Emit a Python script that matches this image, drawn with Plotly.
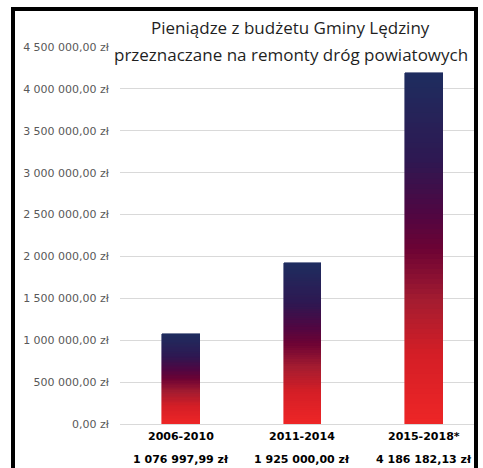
import plotly.graph_objects as go

categories = ["2006-2010", "2011-2014", "2015-2018*"]
values = [1076997.99, 1925000.00, 4186182.13]
y_ticks = [0, 500000, 1000000, 1500000, 2000000, 2500000, 3000000, 3500000, 4000000, 4500000]
title_lines = ["Pieniądze z budżetu Gminy Lędziny", "przeznaczane na remonty dróg powiatowych"]

# gradient stops: (fraction from bottom of bar, rgb)
stops = [
    (0.0, (238, 38, 38)),
    (0.2, (212, 30, 38)),
    (0.35, (165, 28, 48)),
    (0.5, (108, 3, 52)),
    (0.6, (80, 6, 66)),
    (0.75, (46, 24, 82)),
    (1.0, (30, 45, 95)),
]


def color_at(f):
    for (f0, c0), (f1, c1) in zip(stops[:-1], stops[1:]):
        if f0 <= f <= f1:
            t = (f - f0) / (f1 - f0)
            return "rgb(%d,%d,%d)" % tuple(round(a + (b - a) * t) for a, b in zip(c0, c1))
    return "rgb(%d,%d,%d)" % stops[-1][1]


def fmt(v):
    s = f"{v:,.2f}".replace(",", " ").replace(".", ",")
    return s + " zł"


N = 70
fig = go.Figure()
for k in range(N):
    col = color_at((k + 0.5) / N)
    fig.add_trace(go.Bar(
        x=categories,
        y=[v / N for v in values],
        marker=dict(color=col, line=dict(color=col, width=0.6)),
        width=0.31,
        hoverinfo="skip",
        showlegend=False,
    ))

# category labels and values below axis
for c, v in zip(categories, values):
    fig.add_annotation(x=c, y=-0.034, xref="x", yref="paper", text="<b>" + c + "</b>",
                       showarrow=False, yanchor="middle",
                       font=dict(family="DejaVu Sans", size=11, color="#000000"))
    fig.add_annotation(x=c, y=-0.093, xref="x", yref="paper", text="<b>" + fmt(v) + "</b>",
                       showarrow=False, yanchor="middle",
                       font=dict(family="DejaVu Sans", size=11, color="#000000"))

# title (two lines)
fig.add_annotation(x=0.483, y=1.052, xref="paper", yref="paper", text=title_lines[0],
                   showarrow=False, yanchor="middle",
                   font=dict(family="Open Sans", size=17, color="#1f1f1f"))
fig.add_annotation(x=0.483, y=0.98, xref="paper", yref="paper", text=title_lines[1],
                   showarrow=False, yanchor="middle", bgcolor="white",
                   font=dict(family="Open Sans", size=17, color="#1f1f1f"))

# black frame
fig.add_shape(type="rect", xref="paper", yref="paper",
              x0=(13 - 120) / 354, x1=(476 - 120) / 354,
              y0=(424 - 472) / 377, y1=(424 - 9) / 377,
              line=dict(color="black", width=4), layer="above")

fig.update_layout(
    width=483, height=468,
    margin=dict(l=120, r=9, t=47, b=44),
    paper_bgcolor="white", plot_bgcolor="white",
    barmode="stack", bargap=0,
    xaxis=dict(range=[-0.5, 2.41], showticklabels=False, showgrid=False, zeroline=False,
               showline=False, fixedrange=True),
    yaxis=dict(range=[0, 4500000], tickvals=y_ticks, ticktext=[fmt(t) for t in y_ticks],
               showgrid=True, gridcolor="#d9d9d9", gridwidth=1,
               zeroline=True, zerolinecolor="#d9d9d9", zerolinewidth=1,
               showline=False, ticks="", ticklabelstandoff=10,
               tickfont=dict(family="DejaVu Sans", size=11, color="#595959")),
)

fig.write_html("out.html", config={"displayModeBar": False},
               post_script="document.body.style.margin='0';")
